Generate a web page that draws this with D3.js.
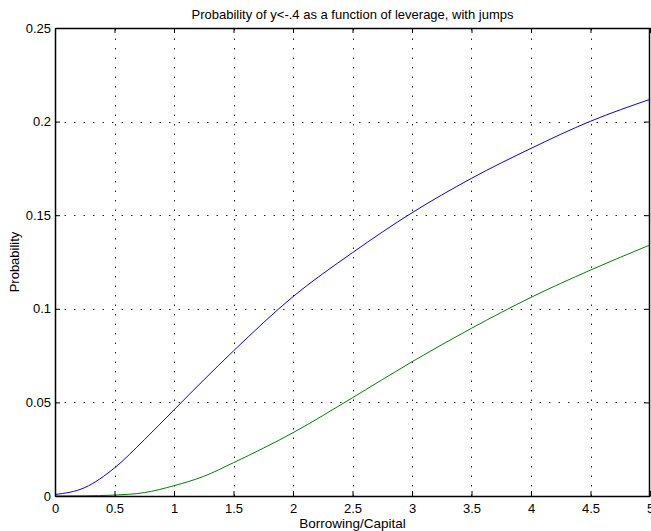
<!DOCTYPE html>
<html><head><meta charset="utf-8">
<script src="https://cdn.jsdelivr.net/npm/d3@7"></script>
<style>body{margin:0;background:#fff}svg{display:block}text{font-family:"Liberation Sans",Arial,sans-serif;fill:#000}</style>
</head><body>
<script>
const xs = [0, 0.25, 0.5, 0.75, 1, 1.25, 1.5, 2, 2.5, 3, 3.5, 4, 4.5, 5];
const blueVals  = [0.0008, 0.0045, 0.0150, 0.0300, 0.0460, 0.0620, 0.0775, 0.1065, 0.1300, 0.1513, 0.1697, 0.1857, 0.2002, 0.2119];
const greenVals = [0.0000, 0.0001, 0.0005, 0.0018, 0.0055, 0.0105, 0.0178, 0.0338, 0.0525, 0.0717, 0.0896, 0.1061, 0.1207, 0.1341];
const xTicks = [0, 0.5, 1, 1.5, 2, 2.5, 3, 3.5, 4, 4.5, 5];
const yTicks = [0, 0.05, 0.1, 0.15, 0.2, 0.25];
const title = "Probability of y<-.4 as a function of leverage, with jumps";
const xLabel = "Borrowing/Capital";
const yLabel = "Probability";

(function () {
const W = 651, H = 531;
const m = {l: 55, r: 1, t: 28, b: 35};
const svg = d3.select("body").append("svg").attr("width", W).attr("height", H);
const x = d3.scaleLinear().domain([0, 5]).range([m.l, W - m.r]);
const y = d3.scaleLinear().domain([0, 0.25]).range([H - m.b, m.t]);

// grid
const g = svg.append("g");
g.selectAll(".vg").data(xTicks.slice(1, -1)).join("line")
  .attr("x1", d => Math.round(x(d)) + 0.5).attr("x2", d => Math.round(x(d)) + 0.5)
  .attr("y1", y(0)).attr("y2", y(0.25))
  .attr("stroke", "#222").attr("stroke-width", 1).attr("stroke-dasharray", "1.5,8");
g.selectAll(".hg").data(yTicks.slice(1, -1)).join("line")
  .attr("y1", d => Math.round(y(d)) + 0.5).attr("y2", d => Math.round(y(d)) + 0.5)
  .attr("x1", x(0)).attr("x2", x(5))
  .attr("stroke", "#222").attr("stroke-width", 1).attr("stroke-dasharray", "1.5,8");

// lines
const line = d3.line().x((d, i) => x(xs[i])).y(d => y(d)).curve(d3.curveMonotoneX);
svg.append("path").datum(blueVals).attr("d", line).attr("fill", "none").attr("stroke", "#0000ff").attr("stroke-width", 1);
svg.append("path").datum(greenVals).attr("d", line).attr("fill", "none").attr("stroke", "#008000").attr("stroke-width", 1);

// axes
const tickLen = 5;
const axB = svg.append("g").attr("transform", `translate(0,${y(0)})`)
  .call(d3.axisBottom(x).tickValues(xTicks).tickSizeInner(-tickLen).tickSizeOuter(0).tickPadding(8).tickFormat(d3.format("")));
const axT = svg.append("g").attr("transform", `translate(0,${y(0.25)})`)
  .call(d3.axisTop(x).tickValues(xTicks).tickSizeInner(-tickLen).tickSizeOuter(0).tickFormat(""));
const axL = svg.append("g").attr("transform", `translate(${x(0)},0)`)
  .call(d3.axisLeft(y).tickValues(yTicks).tickSizeInner(-tickLen).tickSizeOuter(0).tickPadding(4).tickFormat(d3.format("")));
const axR = svg.append("g").attr("transform", `translate(${x(5) - 1},0)`)
  .call(d3.axisRight(y).tickValues(yTicks).tickSizeInner(-tickLen).tickSizeOuter(0).tickFormat(""));
[axB, axT, axL, axR].forEach(a => {
  a.selectAll("path").attr("stroke", "#000").attr("stroke-width", 1.5);
  a.selectAll("line").attr("stroke", "#000");
  a.selectAll("text").style("font-size", "13px").style("font-family", '"Liberation Sans",Arial,sans-serif');
});

svg.append("text").attr("x", (x(0) + x(5)) / 2).attr("y", 19).attr("text-anchor", "middle")
  .style("font-size", "13px").text(title);
svg.append("text").attr("x", (x(0) + x(5)) / 2).attr("y", 528).attr("text-anchor", "middle")
  .style("font-size", "13.5px").text(xLabel);
svg.append("text").attr("transform", `translate(19,${(y(0) + y(0.25)) / 2}) rotate(-90)`).attr("text-anchor", "middle")
  .style("font-size", "13px").text(yLabel);
})();
</script>
</body></html>
